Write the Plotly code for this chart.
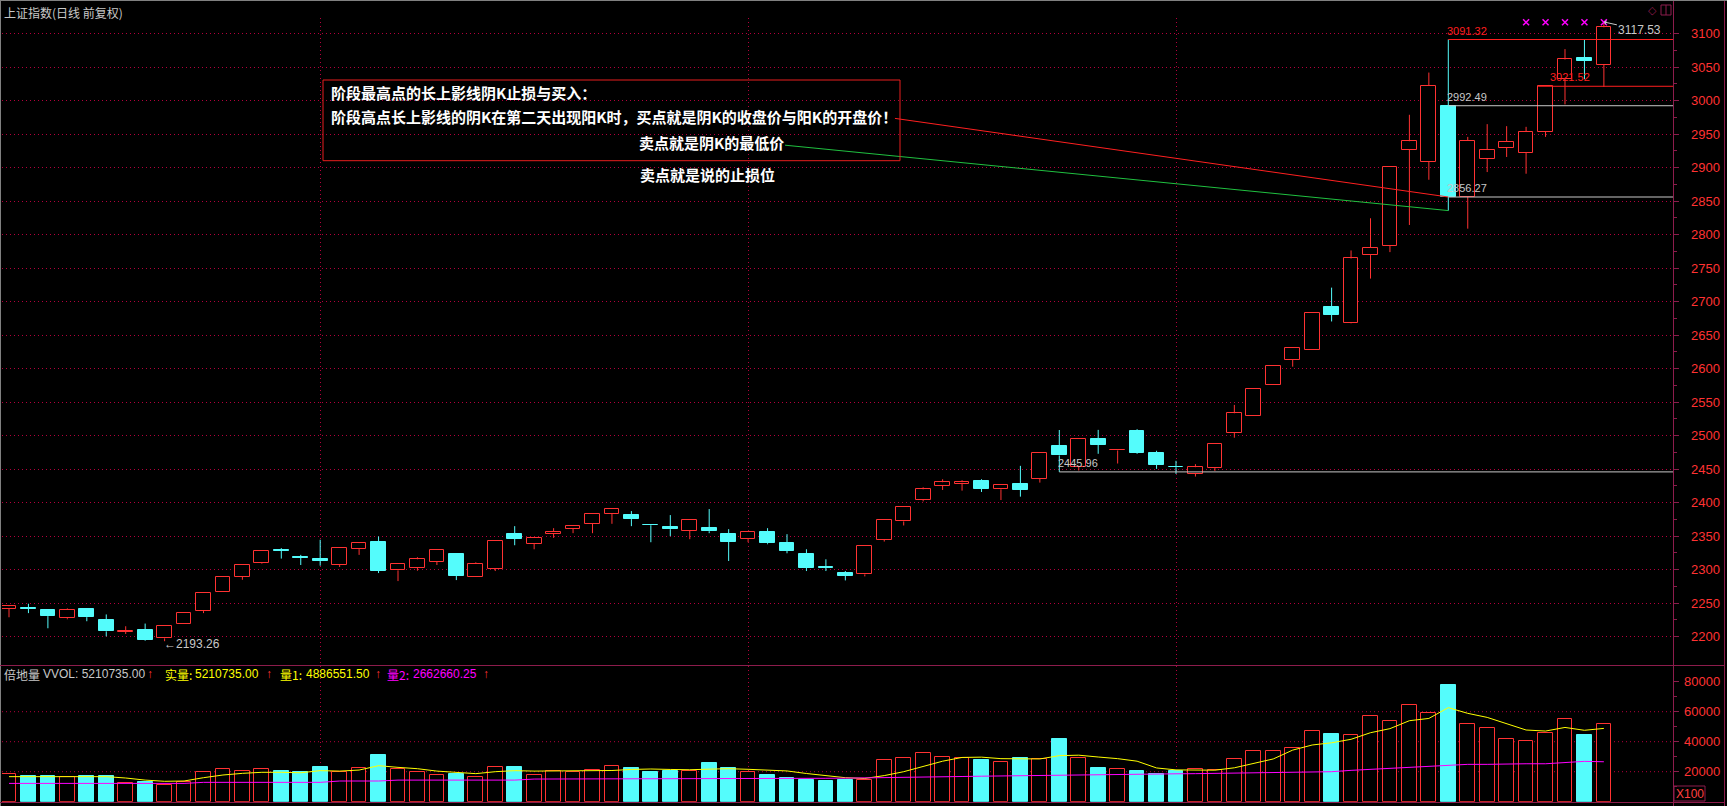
import plotly.graph_objects as go

W, H = 1727, 806

# ---------------- data ----------------
opens = [2241.7, 2242.5, 2239.2, 2227.6, 2240.7, 2225.6, 2207.0, 2210.6, 2197.5, 2218.6,
         2238.2, 2267.3, 2289.4, 2310.6, 2329.1, 2318.7, 2316.1, 2307.5, 2330.7, 2341.7,
         2299.0, 2303.0, 2311.5, 2324.0, 2289.0, 2301.0, 2353.0, 2338.5, 2353.5, 2361.0,
         2368.5, 2383.5, 2381.5, 2366.2, 2363.5, 2358.0, 2362.0, 2353.0, 2346.0, 2356.0,
         2339.5, 2323.0, 2303.5, 2295.0, 2293.0, 2345.0, 2372.0, 2404.0, 2425.5, 2428.5,
         2432.5, 2420.0, 2428.0, 2436.0, 2485.0, 2454.0, 2495.0, 2478.0, 2507.0, 2474.5,
         2453.2, 2443.5, 2452.5, 2504.5, 2529.5, 2575.0, 2613.0, 2628.0, 2692.5, 2667.5,
         2769.5, 2783.0, 2927.0, 2909.0, 2992.49, 2856.5, 2913.0, 2930.0, 2922.0, 2954.0,
         3033.0, 3063.0, 3054.0]
highs = [2245.5, 2249.2, 2240.2, 2242.2, 2242.2, 2233.2, 2215.6, 2219.6, 2216.1, 2235.7,
         2265.8, 2288.4, 2306.5, 2327.6, 2332.2, 2322.1, 2344.7, 2332.2, 2340.0, 2349.7,
         2308.0, 2318.6, 2330.0, 2324.0, 2311.0, 2343.5, 2365.0, 2348.0, 2362.0, 2364.5,
         2382.5, 2390.0, 2387.5, 2368.0, 2381.5, 2373.5, 2390.5, 2360.5, 2357.0, 2362.0,
         2353.0, 2330.5, 2315.5, 2298.0, 2336.0, 2374.0, 2393.0, 2423.0, 2435.0, 2433.5,
         2435.0, 2426.0, 2455.0, 2474.0, 2508.5, 2495.0, 2508.7, 2480.0, 2509.7, 2477.5,
         2462.5, 2457.5, 2487.0, 2546.0, 2569.5, 2604.5, 2631.0, 2683.0, 2721.0, 2776.5,
         2824.5, 2901.0, 2979.0, 3042.0, 3091.32, 2946.0, 2965.0, 2962.0, 2961.0, 3021.52,
         3077.0, 3091.0, 3117.53]
lows = [2229.0, 2235.2, 2212.6, 2226.0, 2223.1, 2200.5, 2204.0, 2194.0, 2193.26, 2218.6,
        2235.2, 2267.3, 2285.0, 2309.0, 2316.6, 2307.0, 2306.0, 2304.0, 2322.1, 2295.0,
        2283.0, 2298.5, 2307.0, 2284.5, 2289.0, 2298.0, 2336.5, 2330.5, 2347.5, 2354.5,
        2354.5, 2368.5, 2365.0, 2341.0, 2350.0, 2345.5, 2354.5, 2313.0, 2341.0, 2338.0,
        2324.5, 2298.0, 2298.0, 2284.0, 2290.0, 2342.0, 2366.0, 2402.0, 2419.0, 2418.0,
        2416.0, 2404.0, 2409.0, 2430.0, 2445.96, 2448.0, 2473.0, 2458.5, 2473.0, 2450.5,
        2443.0, 2439.0, 2447.5, 2497.0, 2529.5, 2575.0, 2603.0, 2628.0, 2670.5, 2667.0,
        2734.5, 2774.0, 2814.5, 2882.0, 2836.0, 2809.0, 2893.5, 2916.0, 2891.0, 2946.0,
        2994.5, 3032.0, 3020.5]
closes = [2245.2, 2242.0, 2230.7, 2240.2, 2229.1, 2208.0, 2209.0, 2195.5, 2216.1, 2235.7,
          2265.8, 2288.4, 2306.5, 2327.6, 2328.6, 2318.1, 2313.1, 2332.2, 2339.7, 2298.5,
          2308.0, 2315.6, 2330.0, 2290.5, 2309.0, 2343.5, 2346.0, 2348.0, 2357.0, 2364.5,
          2382.5, 2390.0, 2375.5, 2366.0, 2360.5, 2373.5, 2357.5, 2341.5, 2357.0, 2339.5,
          2328.0, 2302.5, 2303.2, 2291.0, 2336.0, 2374.0, 2393.0, 2420.0, 2430.5, 2430.5,
          2421.0, 2426.0, 2419.6, 2474.0, 2470.5, 2495.0, 2486.3, 2479.0, 2474.5, 2456.5,
          2453.0, 2453.0, 2487.0, 2533.5, 2569.5, 2604.5, 2631.0, 2683.0, 2680.5, 2764.5,
          2780.5, 2901.0, 2939.5, 3022.0, 2856.27, 2940.0, 2927.0, 2939.0, 2954.0, 3021.52,
          3061.5, 3059.5, 3109.5]

volumes = [18400, 17100, 17100, 16200, 17100, 17100, 12200, 13100, 11100, 13300,
           19600, 21800, 20200, 21800, 20400, 19800, 23100, 19600, 22400, 31100,
           21800, 19800, 17800, 18400, 16200, 23100, 23100, 17800, 20400, 19800,
           21100, 24100, 22700, 19800, 20500, 20500, 25600, 22700, 19800, 17500,
           16100, 14700, 13900, 14700, 14700, 27800, 29300, 32200, 30000, 29300,
           27800, 26400, 29300, 28600, 41800, 29300, 22700, 22000, 20500, 18300,
           20500, 22000, 21200, 28600, 33700, 33700, 35900, 47100, 45100, 44200,
           56900, 53600, 64200, 58900, 77800, 51600, 48900, 41600, 40400, 45600,
           54900, 44400, 52107]
vol_ma1 = [16700, 16700, 16700, 16700, 16700, 16700, 15800, 14400, 13600, 13800,
           16000, 17800, 18900, 19600, 19600, 19300, 20700, 20400, 21100, 24000,
           22900, 22000, 20400, 19600, 18700, 20000, 20700, 20400, 20400, 20400,
           20400, 20800, 21500, 21800, 21500, 21300, 21700, 22000, 21600, 21300,
           20500, 18800, 17200, 16000, 15500, 17400, 20000, 23500, 27000, 29500,
           29700, 28700, 28500, 28500, 30700, 31000, 29800, 28700, 27000, 22500,
           21200, 21000, 21000, 22600, 25300, 28500, 34400, 37800, 39300, 41600,
           46000, 48700, 54000, 55500, 62700, 58900, 56200, 51800, 47800, 47100,
           49500, 47600, 48865]
vol_ma2 = [12200, 12200, 12200, 12200, 12200, 12200, 12200, 12200, 12200, 12200,
           12900, 12900, 12900, 12900, 12900, 12900, 12900, 13800, 13800, 13800,
           14400, 14400, 14400, 14400, 14400, 14400, 14400, 15100, 15100, 15100,
           15100, 15300, 15300, 15300, 15300, 15300, 15300, 15300, 15300, 15300,
           15300, 15500, 15600, 15700, 15800, 16000, 16200, 16400, 16600, 16800,
           17000, 17200, 17400, 17600, 17900, 18100, 18200, 18300, 18400, 18500,
           18600, 18700, 18900, 19100, 19400, 19700, 20000, 20000, 20000, 20900,
           21600, 22200, 22900, 23600, 24200, 24900, 24900, 25300, 25300, 25300,
           26200, 26900, 26626]

price_ticks = [2200, 2250, 2300, 2350, 2400, 2450, 2500, 2550, 2600, 2650,
               2700, 2750, 2800, 2850, 2900, 2950, 3000, 3050, 3100]
price_labels = [str(t) for t in price_ticks]
vol_ticks = [20000, 40000, 60000, 80000]
vol_labels = ["20000", "40000", "60000", "80000"]
vol_grid = [20000, 40000, 60000]
month_breaks = [16, 38, 60]
signal_idx = [78, 79, 80, 81, 82]
signal_level = 3117

title_text = "上证指数(日线 前复权)"
box_lines = ["阶段最高点的长上影线阴K止损与买入：",
             "阶段高点长上影线的阴K在第二天出现阳K时，买点就是阴K的收盘价与阳K的开盘价！",
             "卖点就是阴K的最低价",
             "卖点就是说的止损位"]

# ---------------- styling ----------------
RED = "#FF3232"
CYAN = "#54FCFC"
GRID = "#B4003C"
DOTS = "1px,3px"
AXIS = "#8C1C4C"
GRAY = "#C8C8C8"
BODY_W = 0.76
XMIN, XMAX = -0.36, 85.553
PMIN, PMAX = 2159.25, 3123.43
VMAX = 90467
CJK = "Noto Sans CJK SC"
NUM = "Liberation Sans, Arial"


def px_x(px):
    return px / W


def px_y(py):
    return 1 - py / H


n = len(opens)
idx = list(range(n))
up = [closes[i] >= opens[i] for i in idx]

fig = go.Figure()


def add_candles(sel, fill, color):
    xs = [i for i in idx if sel(i)]
    base = [min(opens[i], closes[i]) for i in xs]
    hgt = [max(abs(closes[i] - opens[i]), 0.3) for i in xs]
    fig.add_trace(go.Bar(x=xs, y=hgt, base=base, width=BODY_W,
                         marker=dict(color=fill, line=dict(color=color, width=1)),
                         xaxis="x", yaxis="y", hoverinfo="skip"))
    wx, wy = [], []
    for i in xs:
        top = max(opens[i], closes[i])
        bot = min(opens[i], closes[i])
        if highs[i] > top:
            wx += [i, i, None]
            wy += [top, highs[i], None]
        if lows[i] < bot:
            wx += [i, i, None]
            wy += [lows[i], bot, None]
    fig.add_trace(go.Scatter(x=wx, y=wy, mode="lines", line=dict(color=color, width=1),
                             xaxis="x", yaxis="y", hoverinfo="skip"))


add_candles(lambda i: up[i], "black", RED)
add_candles(lambda i: not up[i], CYAN, CYAN)

# volume bars
rx = [i for i in idx if up[i]]
cx = [i for i in idx if not up[i]]
fig.add_trace(go.Bar(x=rx, y=[volumes[i] for i in rx], width=BODY_W,
                     marker=dict(color="black", line=dict(color=RED, width=1)),
                     xaxis="x", yaxis="y2", hoverinfo="skip"))
fig.add_trace(go.Bar(x=cx, y=[volumes[i] for i in cx], width=BODY_W,
                     marker=dict(color=CYAN, line=dict(color=CYAN, width=1)),
                     xaxis="x", yaxis="y2", hoverinfo="skip"))
fig.add_trace(go.Scatter(x=idx, y=vol_ma1, mode="lines", line=dict(color="#FFFF00", width=1),
                         xaxis="x", yaxis="y2", hoverinfo="skip"))
fig.add_trace(go.Scatter(x=idx, y=vol_ma2, mode="lines", line=dict(color="#FF00FF", width=1),
                         xaxis="x", yaxis="y2", hoverinfo="skip"))

# signal markers
fig.add_trace(go.Scatter(x=signal_idx, y=[signal_level] * len(signal_idx), mode="markers",
                         marker=dict(symbol="x-thin", size=6, line=dict(color="#FF00FF", width=1.5)),
                         xaxis="x", yaxis="y", hoverinfo="skip"))

shapes = []
annotations = []


def level(x0, price, color, label, label_color, lx):
    shapes.append(dict(type="line", xref="x", yref="y", x0=x0, x1=XMAX, y0=price, y1=price,
                       line=dict(color=color, width=1)))
    annotations.append(dict(x=lx, y=price, xref="x", yref="y", text=label, showarrow=False,
                            xanchor="left", yanchor="middle", yshift=9, xshift=-3,
                            font=dict(family=NUM, size=11, color=label_color)))


level(74, highs[74], "#FF1E1E", "3091.32", "#FF1E1E", 74)
level(79 - BODY_W / 2, closes[79], "#FF1E1E", "3021.52", "#FF1E1E", 79.3)
level(74, opens[74], GRAY, "2992.49", GRAY, 74)
level(74, closes[74], GRAY, "2856.27", GRAY, 74)
level(54, lows[54], GRAY, "2445.96", GRAY, 54)

# diagonal pointer lines
shapes.append(dict(type="line", xref="x", yref="y", x0=45.55, y0=2973.6, x1=74, y1=closes[74],
                   line=dict(color="#FF2020", width=1)))
shapes.append(dict(type="line", xref="x", yref="y", x0=39.9, y0=2933.6, x1=74, y1=lows[74],
                   line=dict(color="#20C040", width=1)))

# text box
shapes.append(dict(type="rect", xref="paper", yref="paper", x0=px_x(323), x1=px_x(900),
                   y0=px_y(160.7), y1=px_y(80), line=dict(color="#E81E1E", width=1)))
for txt, lx, ly in zip(box_lines, [329, 329, 637, 637.5], [92.5, 116.7, 142.7, 174]):
    annotations.append(dict(x=px_x(lx), y=px_y(ly), xref="paper", yref="paper",
                            text="<b>" + txt + "</b>", showarrow=False, xanchor="left",
                            yanchor="middle", font=dict(family=CJK, size=15, color="white")))

# low / high markers
annotations.append(dict(x=8, y=lows[8], xref="x", yref="y", text="←2193.26", showarrow=False,
                        xanchor="left", yanchor="middle", xshift=-3, yshift=-3,
                        font=dict(family=NUM, size=12, color=GRAY)))
annotations.append(dict(x=82, y=highs[82], xref="x", yref="y", text="3117.53", showarrow=True,
                        ax=36, ay=8, arrowhead=1, arrowsize=0.8, arrowwidth=1, arrowcolor=GRAY,
                        font=dict(family=NUM, size=12, color=GRAY)))

# title
annotations.append(dict(x=px_x(2), y=px_y(12), xref="paper", yref="paper", text=title_text,
                        showarrow=False, xanchor="left", yanchor="middle",
                        font=dict(family=CJK, size=12, color=GRAY)))

# axis labels
for t, lab in zip(price_ticks, price_labels):
    annotations.append(dict(x=px_x(1722), y=t, xref="paper", yref="y", text=lab, showarrow=False,
                            xanchor="right", yanchor="middle",
                            font=dict(family=NUM, size=13, color=RED)))
for t, lab in zip(vol_ticks, vol_labels):
    annotations.append(dict(x=px_x(1722), y=t, xref="paper", yref="y2", text=lab, showarrow=False,
                            xanchor="right", yanchor="middle",
                            font=dict(family=NUM, size=13, color=RED)))

# volume header row
hdr = [("倍地量", 2, GRAY, CJK), ("VVOL: 5210735.00", 41, GRAY, NUM), ("↑", 145, RED, NUM),
       ("实量:", 163, "#FFFF00", CJK), ("5210735.00", 193, "#FFFF00", NUM), ("↑", 264, RED, NUM),
       ("量1:", 278, "#FFFF00", CJK), ("4886551.50", 304, "#FFFF00", NUM), ("↑", 373, RED, NUM),
       ("量2:", 385, "#FF00FF", CJK), ("2662660.25", 411, "#FF00FF", NUM), ("↑", 481, RED, NUM)]
for txt, lx, col, fam in hdr:
    annotations.append(dict(x=px_x(lx), y=px_y(674), xref="paper", yref="paper", text=txt,
                            showarrow=False, xanchor="left", yanchor="middle",
                            font=dict(family=fam, size=12, color=col)))

# volume grid lines
for v in vol_grid:
    shapes.append(dict(type="line", xref="paper", yref="y2", x0=px_x(2), x1=px_x(1673), y0=v, y1=v,
                       layer="below", line=dict(color=GRID, width=1, dash=DOTS)))

# frame lines
shapes += [
    dict(type="line", xref="paper", yref="paper", x0=0, x1=1, y0=px_y(0.5), y1=px_y(0.5),
         line=dict(color="#808080", width=1)),
    dict(type="line", xref="paper", yref="paper", x0=px_x(0.5), x1=px_x(0.5), y0=0, y1=1,
         line=dict(color="#808080", width=1)),
    dict(type="line", xref="paper", yref="paper", x0=0, x1=px_x(1724), y0=px_y(665.5), y1=px_y(665.5),
         line=dict(color=AXIS, width=1)),
    dict(type="line", xref="paper", yref="paper", x0=0, x1=px_x(1724), y0=px_y(802.5), y1=px_y(802.5),
         line=dict(color=AXIS, width=1)),
    dict(type="line", xref="paper", yref="paper", x0=px_x(1673.5), x1=px_x(1673.5), y0=0, y1=px_y(1),
         line=dict(color=AXIS, width=1)),
    dict(type="line", xref="paper", yref="paper", x0=px_x(1724.5), x1=px_x(1724.5), y0=0, y1=px_y(1),
         line=dict(color=AXIS, width=1)),
    dict(type="rect", xref="paper", yref="paper", x0=px_x(1674), x1=px_x(1705), y0=px_y(801),
         y1=px_y(786), line=dict(color=AXIS, width=1)),
    dict(type="rect", xref="paper", yref="paper", x0=px_x(1661), x1=px_x(1671), y0=px_y(15),
         y1=px_y(5), line=dict(color=AXIS, width=1)),
    dict(type="line", xref="paper", yref="paper", x0=px_x(1666), x1=px_x(1666), y0=px_y(15),
         y1=px_y(5), line=dict(color=AXIS, width=1)),
]
annotations.append(dict(x=px_x(1689.5), y=px_y(793.5), xref="paper", yref="paper", text="X100",
                        showarrow=False, xanchor="center", yanchor="middle",
                        font=dict(family=NUM, size=12, color="#FF4040")))
annotations.append(dict(x=px_x(1652.5), y=px_y(10), xref="paper", yref="paper", text="◇",
                        showarrow=False, xanchor="center", yanchor="middle",
                        font=dict(family="DejaVu Sans", size=11, color=AXIS)))

minor_price = [t + 25 for t in price_ticks]

fig.update_layout(
    width=W, height=H, margin=dict(l=0, r=0, t=0, b=0),
    paper_bgcolor="black", plot_bgcolor="black", showlegend=False,
    barmode="overlay", bargap=0, hovermode=False,
    xaxis=dict(domain=[px_x(2), px_x(1673)], range=[XMIN, XMAX], tickvals=month_breaks,
               showgrid=True, gridcolor=GRID, griddash=DOTS, gridwidth=1,
               showticklabels=False, ticks="", zeroline=False, showline=False, fixedrange=True),
    yaxis=dict(domain=[px_y(664), px_y(18)], range=[PMIN, PMAX], side="right", anchor="x",
               tickvals=price_ticks, showticklabels=False, ticks="outside", ticklen=5,
               tickcolor=AXIS, showgrid=True, gridcolor=GRID, griddash=DOTS, gridwidth=1,
               zeroline=False, showline=False, fixedrange=True,
               minor=dict(tickvals=minor_price, ticks="outside", ticklen=3, tickcolor=AXIS,
                          showgrid=False)),
    yaxis2=dict(domain=[px_y(801.7), px_y(666)], range=[0, VMAX], side="right", anchor="x",
                tickvals=vol_ticks, showticklabels=False, ticks="outside", ticklen=5,
                tickcolor=AXIS, showgrid=False, zeroline=False, showline=False, fixedrange=True,
                minor=dict(tickvals=[10000, 30000, 50000, 70000], ticks="outside", ticklen=3,
                           tickcolor=AXIS, showgrid=False)),
    shapes=shapes, annotations=annotations,
)

fig.write_html("out.html")
